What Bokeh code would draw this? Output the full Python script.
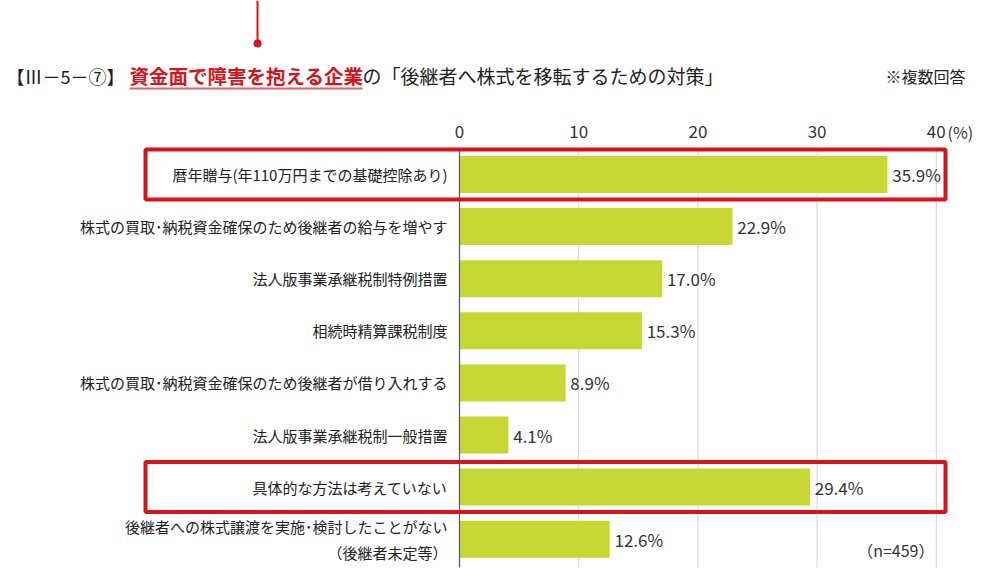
from bokeh.plotting import figure
from bokeh.models import Range1d, ColumnDataSource
from bokeh.core.properties import value
from bokeh.embed import file_html
from bokeh.resources import INLINE

# ---- data ----
categories = [
    "暦年贈与(年110万円までの基礎控除あり)",
    "株式の買取･納税資金確保のため後継者の給与を増やす",
    "法人版事業承継税制特例措置",
    "相続時精算課税制度",
    "株式の買取･納税資金確保のため後継者が借り入れする",
    "法人版事業承継税制一般措置",
    "具体的な方法は考えていない",
    "後継者への株式譲渡を実施･検討したことがない\n（後継者未定等）",
]
values = [35.9, 22.9, 17.0, 15.3, 8.9, 4.1, 29.4, 12.6]
highlighted = [0, 6]
tick_values = [0, 10, 20, 30, 40]
tick_labels = ["0", "10", "20", "30", "40"]
title_prefix = "【Ⅲ－5－⑦】"
title_red = "資金面で障害を抱える企業"
title_rest = "の「後継者へ株式を移転するための対策」"
note_text = "※複数回答"
n_text = "（n=459）"

FONT = "Noto Sans CJK JP"
W, H = 985, 577
X0PX, XSCALE = 459.0, 11.92   # pixel of value 0, px per unit
Y0PX, YSCALE = 174.0, 52.1    # pixel of row 0 centre, px per row


def px(x):
    return (x - X0PX) / XSCALE


def py(y):
    return (y - Y0PX) / YSCALE


p = figure(width=W, height=H, output_backend="svg", toolbar_location=None,
           x_range=Range1d(px(0), px(W)), y_range=Range1d(py(H), py(0)),
           min_border=0, outline_line_color=None,
           x_axis_location=None, y_axis_location=None)
p.xgrid.visible = False
p.ygrid.visible = False
p.background_fill_color = "white"
p.border_fill_color = "white"

rows = list(range(len(categories)))
src = ColumnDataSource(dict(
    y=rows, v=values, cat=categories,
    lab=[f"{v:.1f}%" for v in values],
    lx=[v + 0.4 for v in values],
))

# gridlines
grid_top, grid_bot = py(148), py(567)
p.segment(x0=tick_values[1:], x1=tick_values[1:],
          y0=[grid_top] * 4, y1=[grid_bot] * 4,
          line_color="#d4d4d4", line_width=1)

# bars
p.hbar(y="y", left=0, right="v", height=0.71, source=src,
       fill_color="#c5d833", line_color=None)

# zero axis line
p.segment(x0=[0], x1=[0], y0=[grid_top], y1=[grid_bot],
          line_color="#555555", line_width=1.2)

# tick labels
p.text(x=tick_values, y=[py(131)] * 5, text=tick_labels,
       text_font=value(FONT), text_font_size="17px", text_color="#333333",
       text_align="center", text_baseline="middle")
p.text(x=[px(947)], y=[py(131)], text=["(%)"],
       text_font=value(FONT), text_font_size="16px", text_color="#333333",
       text_align="left", text_baseline="middle")

# category labels
p.text(x=px(447), y="y", text="cat", source=src,
       text_font=value(FONT), text_font_size="15px", text_color="#222222",
       text_align="right", text_baseline="middle", text_line_height=1.25)

# value labels
p.text(x="lx", y="y", text="lab", source=src,
       text_font=value(FONT), text_font_size="17px", text_color="#333333",
       text_align="left", text_baseline="middle")

# highlight boxes
for r in highlighted:
    p.rect(x=[(px(145) + px(945)) / 2], y=[r], width=[px(945) - px(145)],
           height=[0.96], fill_color=None, line_color="#d7141c", line_width=4)

# title
ty = py(75)
p.text(x=[px(6)], y=[ty], text=[title_prefix], text_font=value(FONT),
       text_font_size="18px", text_color="#222222",
       text_align="left", text_baseline="middle")
p.text(x=[px(129)], y=[ty], text=[title_red], text_font=value(FONT),
       text_font_size="19.5px", text_font_style="bold", text_color="#d7141c",
       text_align="left", text_baseline="middle")
p.text(x=[px(362)], y=[ty], text=[title_rest], text_font=value(FONT),
       text_font_size="19px", text_color="#222222",
       text_align="left", text_baseline="middle")
p.segment(x0=[px(129)], x1=[px(362)], y0=[py(88)], y1=[py(88)],
          line_color="#e0606c", line_width=2)

# pointer line and dot
p.segment(x0=[px(257)], x1=[px(257)], y0=[py(0)], y1=[py(43)],
          line_color="#d7141c", line_width=2)
p.scatter(x=[px(257)], y=[py(43)], size=8, fill_color="#d7141c",
          line_color=None)

# notes
p.text(x=[px(965)], y=[py(75)], text=[note_text], text_font=value(FONT),
       text_font_size="16px", text_color="#222222",
       text_align="right", text_baseline="middle")
p.text(x=[px(934)], y=[py(549)], text=[n_text], text_font=value(FONT),
       text_font_size="16px", text_color="#333333",
       text_align="right", text_baseline="middle")

open("out.html", "w").write(file_html(p, INLINE))
